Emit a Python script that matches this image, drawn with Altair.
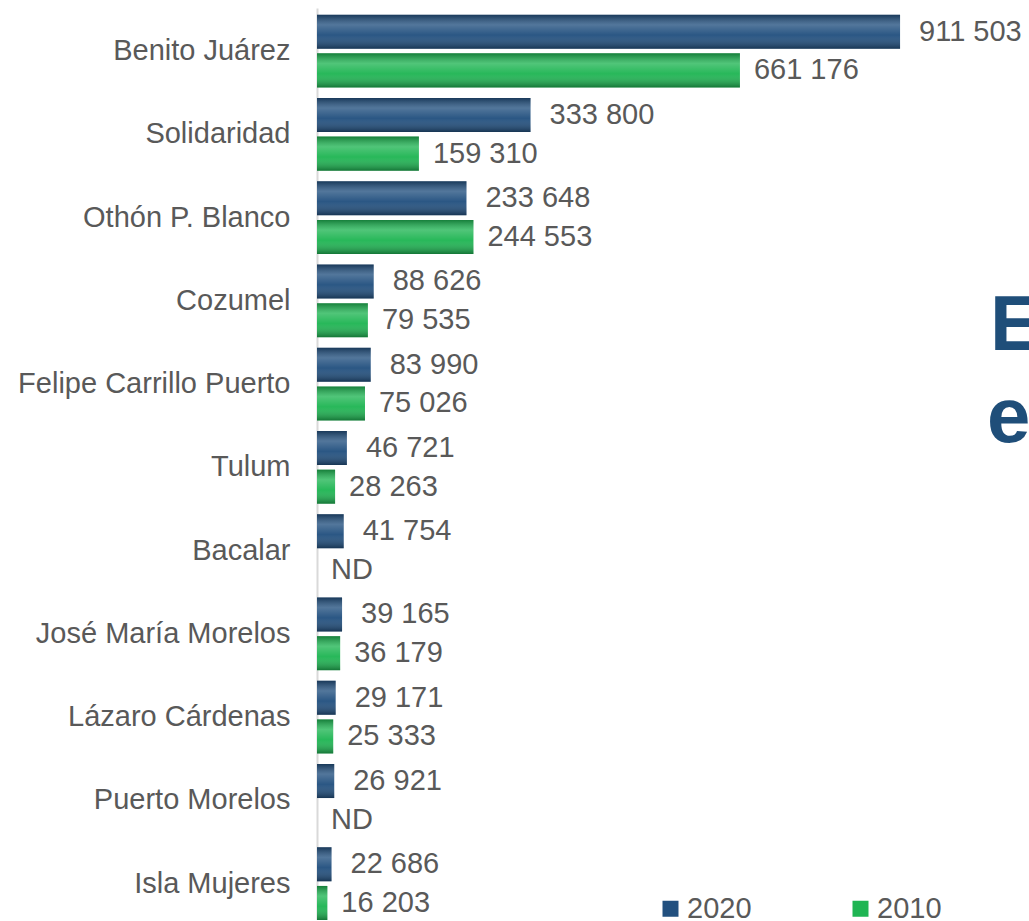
import altair as alt
import pandas as pd

municipios = ["Benito Juárez", "Solidaridad", "Othón P. Blanco", "Cozumel",
              "Felipe Carrillo Puerto", "Tulum", "Bacalar", "José María Morelos",
              "Lázaro Cárdenas", "Puerto Morelos", "Isla Mujeres"]
pob_2020 = [911503, 333800, 233648, 88626, 83990, 46721, 41754, 39165, 29171, 26921, 22686]
pob_2010 = [661176, 159310, 244553, 79535, 75026, 28263, None, 36179, 25333, None, 16203]
series = ["2020", "2010"]
colors = ["#22507F", "#1FB553"]
title_fragments = ["E", "e"]


def fmt(v):
    return f"{v:,}".replace(",", " ") if v is not None else "ND"


rows = []
for m, a, b in zip(municipios, pob_2020, pob_2010):
    for s, v in (("2020", a), ("2010", b)):
        rows.append({"municipio": m, "serie": s,
                     "valor": v if v is not None else 0,
                     "etiqueta": fmt(v)})
df = pd.DataFrame(rows)

FONT = "Liberation Sans"
GREY = "#595959"
FS = 29

y = alt.Y("municipio:N", sort=municipios,
          scale=alt.Scale(paddingInner=0.126, paddingOuter=0.04, align=1),
          axis=alt.Axis(title=None, domainColor="#D9D9D9", domainWidth=2,
                        ticks=False, tickSize=0, labelPadding=27,
                        labelFontSize=FS, labelColor=GREY, labelFont=FONT,
                        labelLimit=400))
yoff = alt.YOffset("serie:N", sort=series,
                   scale=alt.Scale(domain=series, paddingInner=0.12))
x = alt.X("valor:Q", scale=alt.Scale(domain=[0, 938000], nice=False), axis=None)

base = alt.Chart(df)

bars = base.mark_bar().encode(
    x=x, y=y, yOffset=yoff,
    color=alt.Color("serie:N", sort=series,
                    scale=alt.Scale(domain=series, range=colors),
                    legend=alt.Legend(title=None, orient="none", legendX=339,
                                      legendY=886, direction="horizontal",
                                      symbolType="square", symbolSize=256,
                                      symbolStrokeWidth=0, labelFontSize=FS,
                                      labelFont=FONT, labelColor=GREY,
                                      labelOffset=2, columnPadding=94,
                                      padding=0)),
)

shade = alt.Gradient(
    gradient="linear", x1=0, x2=0, y1=0, y2=1,
    stops=[alt.GradientStop(color="rgba(0,0,0,0.30)", offset=0),
           alt.GradientStop(color="rgba(255,255,255,0.22)", offset=0.3),
           alt.GradientStop(color="rgba(255,255,255,0.04)", offset=0.6),
           alt.GradientStop(color="rgba(0,0,0,0.35)", offset=1)])

gloss = base.mark_bar(fill=shade).encode(x=x, y=y, yOffset=yoff)

lab20 = base.transform_filter(alt.datum.serie == "2020").mark_text(
    align="left", baseline="middle", dx=19, fontSize=FS, font=FONT, color=GREY
).encode(x=x, y=y, yOffset=yoff, text="etiqueta:N")

lab10 = base.transform_filter(alt.datum.serie == "2010").mark_text(
    align="left", baseline="middle", dx=14, fontSize=FS, font=FONT, color=GREY
).encode(x=x, y=y, yOffset=yoff, text="etiqueta:N")

t1 = alt.Chart(pd.DataFrame({"t": [title_fragments[0]]})).mark_text(
    align="left", baseline="alphabetic", fontSize=78, fontWeight="bold",
    font=FONT, color="#1F4E79"
).encode(text="t:N", x=alt.value(673), y=alt.value(342))

t2 = alt.Chart(pd.DataFrame({"t": [title_fragments[1]]})).mark_text(
    align="left", baseline="alphabetic", fontSize=78, fontWeight="bold",
    font=FONT, color="#1F4E79"
).encode(text="t:N", x=alt.value(670), y=alt.value(434))

chart = alt.layer(bars, gloss, lab20, lab10, t1, t2).properties(
    width=600, height=912,
    autosize=alt.AutoSizeParams(type="none"),
    padding={"left": 317, "top": 8, "right": 112, "bottom": 0},
).configure_view(stroke=None)

chart.save("out.html", embed_options={"renderer": "svg", "actions": False})
